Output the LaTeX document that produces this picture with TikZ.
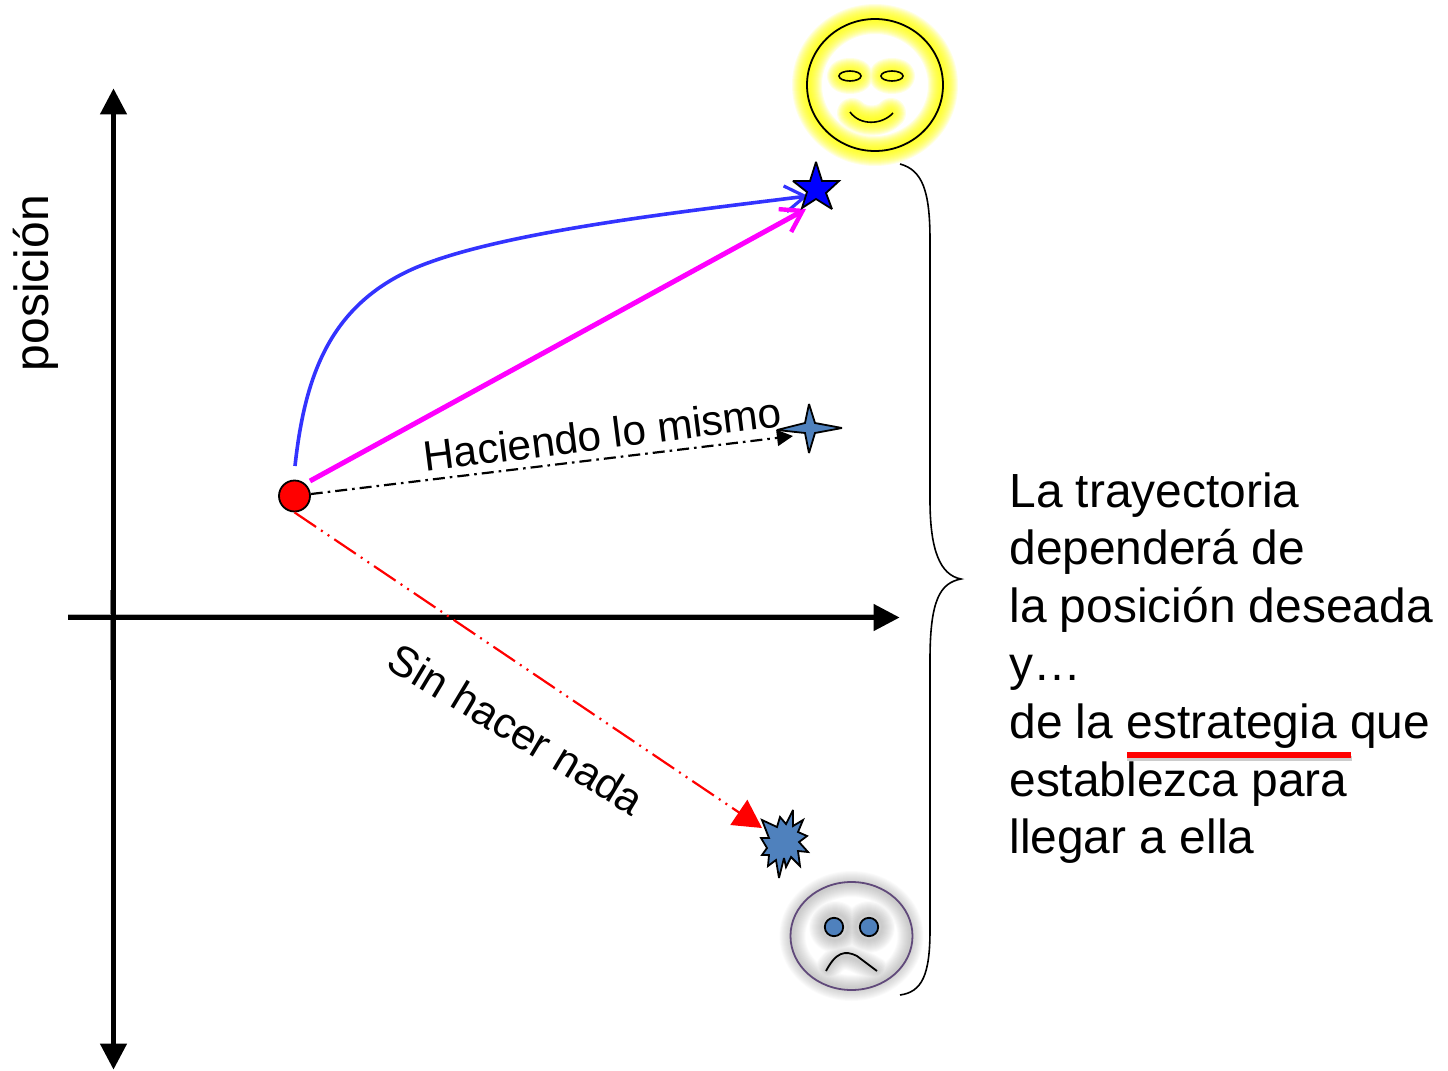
\documentclass[tikz,border=0pt]{standalone}
\usepackage{fontspec}
\setmainfont{Liberation Sans}
\usetikzlibrary{arrows.meta}
\definecolor{steel}{RGB}{79,129,189}
\definecolor{grape}{RGB}{96,73,122}
\definecolor{blueline}{RGB}{51,51,255}
\definecolor{pureyellow}{RGB}{255,255,0}
\definecolor{puremagenta}{RGB}{255,0,255}
\definecolor{pureblue}{RGB}{0,0,255}
\definecolor{softgray}{RGB}{128,128,128}
\tikzset{
  x=0.5pt,y=-0.5pt,
  axis/.style={line width=2.3pt,{Triangle[length=13pt,width=13pt]}-{Triangle[length=13pt,width=13pt]}},
  axisx/.style={line width=2.3pt,-{Triangle[length=13pt,width=13pt]}},
  dashdot/.style={dash pattern=on 6pt off 2.5pt on 1.3pt off 2.5pt},
  dashdotdot/.style={dash pattern=on 13pt off 3pt on 1pt off 3pt on 1pt off 3pt},
  anchorpt/.style={inner sep=0pt,minimum size=0pt},
}
\newcommand{\glowpaths}[4]{%
  \foreach \w in {1,...,#4}{%
    \draw[draw=#1,opacity=#2,line width=\w*1pt,line cap=round,line join=round] #3;
  }%
}
\begin{document}
\begin{tikzpicture}
\useasboundingbox (0,0) rectangle (1448,1071);
% sun
\glowpaths{pureyellow}{0.11}{(875,85) ellipse[x radius=68,y radius=66] (850,76) ellipse[x radius=8,y radius=3] (892,76) ellipse[x radius=8,y radius=3] (852,113) .. controls (862,123) and (882,123) .. (891,113)}{15}
\draw[line width=0.9pt] (875,85) ellipse[x radius=68,y radius=66];
\draw[line width=0.8pt] (850,76) ellipse[x radius=11,y radius=5];
\draw[line width=0.8pt] (892,76) ellipse[x radius=11,y radius=5];
\draw[line width=0.8pt] (850,112) .. controls (860,126) and (882,125) .. (893,113);
% sad face
\glowpaths{softgray}{0.04}{(851.5,936) ellipse[x radius=59,y radius=52] (835,927) circle[radius=13] (869,927) circle[radius=13] (827,970) .. controls (840,950) and (850,955) .. (877,971)}{13}
\draw[draw=grape,line width=0.9pt,fill=none] (851.5,936) ellipse[x radius=61,y radius=54];
\node[circle,draw=black,fill=steel,line width=0.9pt,minimum size=9.2pt,inner sep=0pt] (eyeL) at (834,927) {};
\node[circle,draw=black,fill=steel,line width=0.9pt,minimum size=9.2pt,inner sep=0pt] (eyeR) at (869,927) {};
\draw[line width=0.9pt] (826,971) .. controls (836,952) and (845,950) .. (857,956) -- (877,971);
% axes
\draw[softgray,line width=0.5pt] (110.3,590) -- (110.3,680);
\draw[softgray!60,line width=0.35pt] (68,614.3) -- (880,614.3);
\node[anchorpt] (ytop) at (113.5,88) {};
\node[anchorpt] (ybot) at (113.5,1070) {};
\node[anchorpt] (xl) at (68,617.5) {};
\node[anchorpt] (xr) at (900,617.5) {};
\draw[axis] (ytop) -- (ybot);
\draw[axisx] (xl) -- (xr);
% markers and connectors
\node[circle,draw=black,fill=red,line width=0.9pt,minimum size=15.5pt,inner sep=0pt] (start) at (294.5,496) {};
\coordinate (goalA) at (808,196);
\coordinate (goalB) at (806,209);
\coordinate (goalC) at (793,436);
\coordinate (goalD) at (762,828);
\coordinate (startA) at (295,466);
\coordinate (startB) at (310,481);
\draw[blueline,line width=1.8pt,-{Straight Barb[length=10pt,width=13pt,line width=1.6pt]}] (startA) .. controls (305,375) and (330,305) .. (415,268) .. controls (500,232) and (680,212) .. (goalA);
\draw[puremagenta,line width=2.5pt,-{Straight Barb[length=10pt,width=13pt,line width=2.2pt]}] (startB) -- (goalB);
\draw[black,line width=1.1pt,dashdot,-{Triangle[length=8pt,width=8pt]}] (start) -- (goalC);
\draw[red,line width=1.1pt,dashdotdot,-{Triangle[length=14pt,width=15pt]}] (start.south) -- (goalD);
% stars
\draw[line width=0.9pt,fill=pureblue,miter limit=3] (816,162) -- (822,181) -- (839,181) -- (826,193) -- (832,209) -- (816,199) -- (802,208) -- (807,192) -- (793,181) -- (810,181) -- cycle;
\draw[line width=0.9pt,fill=steel,miter limit=3] (842,428) -- (815,433) -- (809,453) -- (805,433) -- (777,430) -- (805,423) -- (809,404) -- (815,423) -- cycle;
\draw[line width=0.9pt,fill=steel,miter limit=4] (777,827) -- (780,817) -- (786,824) -- (793,810) -- (793,826) -- (803,820) -- (798,832) -- (807,836) -- (799,842) -- (808,852) -- (798,851) -- (800,866) -- (791,857) -- (786,867) -- (784,858) -- (779,878) -- (776,860) -- (768,866) -- (769,855) -- (762,855) -- (767,848) -- (761,838) -- (769,838) -- (762,820) -- cycle;
% labels
\node[inner sep=0pt,rotate=90,font=\fontsize{24}{28}\selectfont] (ypos) at (36,283) {posición};
\node[inner sep=0pt,rotate=7.2,font=\fontsize{21.2}{25}\selectfont] (lab1) at (602.5,434) {Haciendo lo mismo};
\node[inner sep=0pt,rotate=-31,font=\fontsize{21.5}{26}\selectfont] (lab2) at (516.5,729) {Sin hacer nada};
% brace
\coordinate (brT) at (900,164);
\coordinate (brB) at (900,995);
\coordinate (brM) at (961,579);
\draw[line width=0.8pt] (brT) .. controls (922,170) and (930,190) .. (930,240) -- (930,500) .. controls (930,550) and (940,575) .. (brM) .. controls (940,583) and (930,600) .. (930,660) -- (930,930) .. controls (930,975) and (922,992) .. (brB);
% text
\node[inner sep=0pt,align=left,anchor=north west,font=\fontsize{23.95}{28.9}\selectfont] (txt) at (1009,472) {La trayectoria\\dependerá de\\la posición deseada\\y…\\de la estrategia que\\establezca para\\llegar a ella};
% underline
\coordinate (uL) at (1127,755);
\coordinate (uR) at (1351,755);
\draw[black!20,line width=2.6pt] (1127,758.5) -- (1352,758.5);
\draw[red,line width=2.8pt] (uL) -- (uR);
\end{tikzpicture}
\end{document}
